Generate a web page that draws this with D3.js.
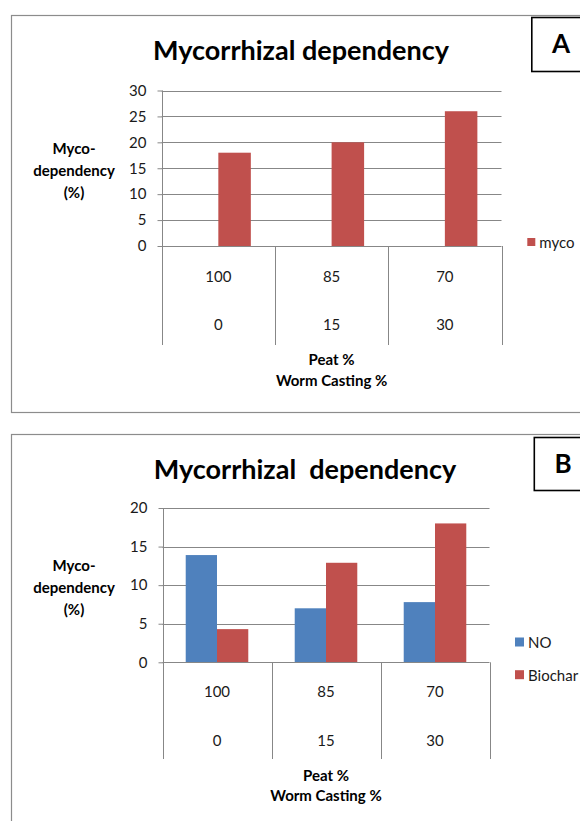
<!DOCTYPE html>
<html>
<head>
<meta charset="utf-8">
<script src="https://cdn.jsdelivr.net/npm/d3@7"></script>
<style>
  html, body { margin: 0; padding: 0; background: #fff; }
  svg { display: block; }
  text { font-family: Lato, "Open Sans", sans-serif; fill: #1a1a1a; }
</style>
</head>
<body>
<svg id="chart" width="580" height="821"></svg>
<script>
// ---------- data ----------
const peatPct = ["100", "85", "70"];
const wormPct = ["0", "15", "30"];
const categories = ["c1", "c2", "c3"];

const mycoA = [18, 20, 26];
const slotsA = ["blank", "myco"];
const yTicksA = [0, 5, 10, 15, 20, 25, 30];

const seriesB = ["NO", "Biochar"];
const noB = [13.9, 7.0, 7.8];
const biocharB = [4.3, 12.9, 18.0];
const yTicksB = [0, 5, 10, 15, 20];

const titleA = "Mycorrhizal dependency";
const titleB = "Mycorrhizal  dependency";
const yLabelLines = ["Myco-", "dependency", "(%)"];
const xLabelLines = ["Peat %", "Worm Casting %"];

const colors = { myco: "#C0504D", NO: "#4F81BD", Biochar: "#C0504D" };

const svg = d3.select("#chart");
const gridColor = "#878787";
const fs = 15;

function panel(opt) {
  const g = svg.append("g");
  // panel frame
  g.append("rect").attr("x", 11.5).attr("y", opt.frameTop).attr("width", 600)
    .attr("height", opt.frameBottom - opt.frameTop)
    .attr("fill", "none").attr("stroke", "#8c8c8c").attr("stroke-width", 1.2);
  // letter box
  g.append("rect").attr("x", opt.boxX).attr("y", opt.boxTop).attr("width", 80)
    .attr("height", opt.boxBottom - opt.boxTop)
    .attr("fill", "#fff").attr("stroke", "#000").attr("stroke-width", 1.6);
  g.append("text").attr("x", opt.letterX).attr("y", opt.letterY)
    .attr("text-anchor", "middle").attr("font-weight", "bold").attr("font-size", 26)
    .style("fill", "#000").text(opt.letter);
  // title
  g.append("text").attr("x", opt.titleX).attr("y", opt.titleY)
    .attr("text-anchor", "middle").attr("font-weight", "bold").attr("font-size", opt.titleSize)
    .style("white-space", "pre").style("fill", "#000").text(opt.title);

  const x0 = d3.scaleBand().domain(categories).range([opt.x0, opt.x1]);
  const bw = x0.bandwidth();
  const xs = d3.scaleBand().domain(opt.slots).range([bw * 0.213, bw * 0.787]);
  const y = d3.scaleLinear().domain([0, opt.yMax]).range([opt.yZero, opt.yTop]);

  // gridlines
  g.append("g").selectAll("line").data(opt.ticks.filter(t => t > 0)).join("line")
    .attr("x1", opt.x0).attr("x2", opt.x1)
    .attr("y1", d => Math.round(y(d)) + 0.5).attr("y2", d => Math.round(y(d)) + 0.5)
    .attr("stroke", gridColor).attr("stroke-width", 1);

  // y axis
  const yAxis = d3.axisLeft(y).tickValues(opt.ticks).tickSize(5).tickPadding(11);
  const ya = g.append("g").attr("transform", `translate(${Math.round(opt.x0) + 0.5},0)`).call(yAxis);
  ya.select(".domain").remove();
  ya.selectAll(".tick line").attr("stroke", gridColor);
  ya.selectAll(".tick text").attr("font-size", fs).attr("font-family", "Lato, sans-serif")
    .style("fill", "#1a1a1a");
  g.append("line").attr("x1", Math.round(opt.x0) + 0.5).attr("x2", Math.round(opt.x0) + 0.5)
    .attr("y1", opt.yTop).attr("y2", opt.divBottom).attr("stroke", gridColor);

  // bars
  opt.series.forEach(s => {
    g.append("g").selectAll("rect").data(s.values).join("rect")
      .attr("x", (d, i) => x0(categories[i]) + xs(s.name))
      .attr("width", xs.bandwidth())
      .attr("y", d => y(d))
      .attr("height", d => y(0) - y(d))
      .attr("fill", colors[s.name]);
  });

  // x axis line
  g.append("line").attr("x1", opt.x0).attr("x2", opt.x1)
    .attr("y1", Math.round(y(0)) + 0.5).attr("y2", Math.round(y(0)) + 0.5)
    .attr("stroke", gridColor);
  // category dividers
  const divs = categories.map(c => x0(c) + bw).concat([x0(categories[0])]);
  g.append("g").selectAll("line").data(divs).join("line")
    .attr("x1", d => Math.round(d) + 0.5).attr("x2", d => Math.round(d) + 0.5)
    .attr("y1", y(0)).attr("y2", opt.divBottom).attr("stroke", gridColor);

  // category labels (two rows)
  g.append("g").selectAll("text").data(peatPct).join("text")
    .attr("x", (d, i) => x0(categories[i]) + bw / 2).attr("y", opt.row1Y)
    .attr("text-anchor", "middle").attr("dominant-baseline", "central")
    .attr("font-size", fs).text(d => d);
  g.append("g").selectAll("text").data(wormPct).join("text")
    .attr("x", (d, i) => x0(categories[i]) + bw / 2).attr("y", opt.row2Y)
    .attr("text-anchor", "middle").attr("dominant-baseline", "central")
    .attr("font-size", fs).text(d => d);

  // x title
  const xc = (opt.x0 + opt.x1) / 2;
  xLabelLines.forEach((t, i) => {
    g.append("text").attr("x", xc).attr("y", opt.xLabY[i])
      .attr("text-anchor", "middle").attr("dominant-baseline", "central")
      .attr("font-weight", "bold").attr("font-size", fs).style("white-space", "pre")
      .style("fill", "#000").text(t);
  });
  // y title
  yLabelLines.forEach((t, i) => {
    g.append("text").attr("x", 74).attr("y", opt.yLabY[i])
      .attr("text-anchor", "middle").attr("dominant-baseline", "central")
      .attr("font-weight", "bold").attr("font-size", fs)
      .style("fill", "#000").text(t);
  });

  // legend
  opt.legend.forEach(l => {
    g.append("rect").attr("x", l.x).attr("y", l.y - l.s / 2).attr("width", l.s).attr("height", l.s)
      .attr("fill", colors[l.name]);
    g.append("text").attr("x", l.x + l.s + 4).attr("y", l.y)
      .attr("dominant-baseline", "central").attr("font-size", fs).text(l.name);
  });
}

panel({
  frameTop: 15.5, frameBottom: 412.5,
  boxX: 531.8, boxTop: 17.5, boxBottom: 71.5, letter: "A", letterX: 561, letterY: 53,
  title: titleA, titleX: 301, titleY: 59.5, titleSize: 27,
  x0: 161.7, x1: 501.5, yZero: 246, yTop: 90.5, yMax: 30, ticks: yTicksA,
  slots: slotsA,
  series: [{ name: "myco", values: mycoA }],
  divBottom: 345, row1Y: 276, row2Y: 324, xLabY: [359, 380], yLabY: [148, 170, 192],
  legend: [{ name: "myco", x: 527.3, y: 242, s: 8 }]
});

panel({
  frameTop: 434.5, frameBottom: 900,
  boxX: 534.3, boxTop: 437.5, boxBottom: 490.5, letter: "B", letterX: 563, letterY: 473,
  title: titleB, titleX: 305, titleY: 479, titleSize: 27,
  x0: 162.5, x1: 489.5, yZero: 662.3, yTop: 508, yMax: 20, ticks: yTicksB,
  slots: seriesB,
  series: [{ name: "NO", values: noB }, { name: "Biochar", values: biocharB }],
  divBottom: 759, row1Y: 691, row2Y: 739.5, xLabY: [774.5, 795], yLabY: [565, 587, 609],
  legend: [{ name: "NO", x: 515, y: 642, s: 9 }, { name: "Biochar", x: 515, y: 674.7, s: 9 }]
});
</script>
</body>
</html>
